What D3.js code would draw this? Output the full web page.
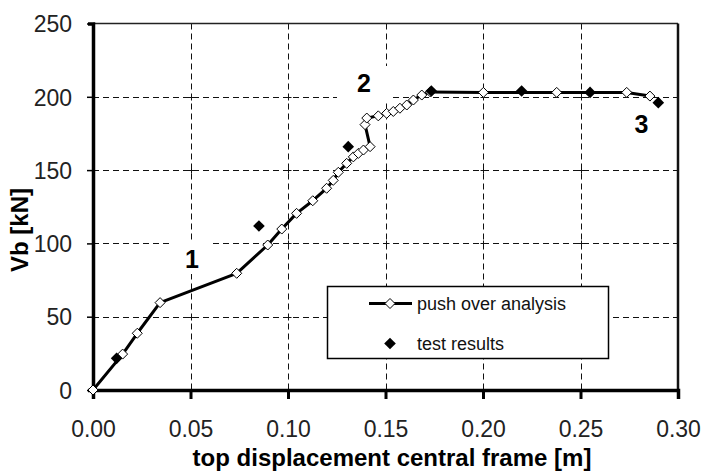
<!DOCTYPE html>
<html>
<head>
<meta charset="utf-8">
<script src="https://cdn.jsdelivr.net/npm/d3@7"></script>
<style>
  html, body { margin: 0; padding: 0; background: #fff; }
  svg { display: block; font-family: "Liberation Sans", Arial, sans-serif; }
</style>
</head>
<body>
<svg id="chart" width="704" height="475"></svg>
<script>
// Pushover curve of the central frame: top displacement [m] vs base shear Vb [kN]
const pushDisp = [0, 0.0152, 0.0227, 0.0344, 0.0737, 0.0896, 0.0968, 0.1044, 0.1127, 0.1198,
                  0.1232, 0.1258, 0.1301, 0.1335, 0.1361, 0.1387, 0.1421, 0.1395, 0.1404, 0.1463,
                  0.1506, 0.1540, 0.1574, 0.1609, 0.1643, 0.1686, 0.1730, 0.2002, 0.2378, 0.2737, 0.2856];
const pushVb   = [0, 24.5, 38.7, 59.6, 79.6, 98.9, 109.8, 120.5, 129.1, 137.6,
                  143.0, 148.5, 154.6, 159.0, 161.4, 163.7, 166.0, 181.0, 185.5, 187.0,
                  188.7, 190.0, 192.2, 194.4, 197.8, 201.2, 203.3, 203.0, 203.0, 203.0, 200.5];

// Experimental points
const testDisp = [0.0121, 0.0851, 0.1309, 0.1735, 0.2198, 0.2549, 0.2899];
const testVb   = [21.6, 111.9, 166.0, 204.0, 204.0, 203.0, 196.0];

// Axis ticks
const xTicks = [0, 0.05, 0.10, 0.15, 0.20, 0.25, 0.30];
const yTicks = [0, 50, 100, 150, 200, 250];

// Stage annotations
const stageLabels = ["1", "2", "3"];
const stageDisp   = [0.0507, 0.1389, 0.2812];
const stageVb     = [83, 203, 175];

const legendNames = ["push over analysis", "test results"];

const svg = d3.select("#chart");
const x = d3.scaleLinear().domain([0, 0.30]).range([93, 678]);
const y = d3.scaleLinear().domain([0, 250]).range([390, 23.5]);

const diamond = r => `M0,${-r}L${r},0L0,${r}L${-r},0Z`;

// dashed grid
const grid = svg.append("g").attr("stroke", "#111").attr("stroke-width", 1)
  .attr("stroke-dasharray", "6,4");
grid.selectAll("line.v").data(xTicks.slice(1, -1)).join("line")
  .attr("x1", d => Math.round(x(d)) + 0.5).attr("x2", d => Math.round(x(d)) + 0.5)
  .attr("y1", y(250)).attr("y2", y(0));
grid.selectAll("line.h").data(yTicks.slice(1, -1)).join("line")
  .attr("x1", x(0)).attr("x2", x(0.30))
  .attr("y1", d => Math.round(y(d)) + 0.5).attr("y2", d => Math.round(y(d)) + 0.5);

// small crosses where grid lines meet
const cross = svg.append("g").attr("stroke", "#111").attr("stroke-width", 1);
xTicks.slice(1, -1).forEach(a => yTicks.slice(1, -1).forEach(b => {
  const cx = Math.round(x(a)) + 0.5, cy = Math.round(y(b)) + 0.5;
  cross.append("line").attr("x1", cx - 3).attr("x2", cx + 3).attr("y1", cy).attr("y2", cy);
  cross.append("line").attr("x1", cx).attr("x2", cx).attr("y1", cy - 3).attr("y2", cy + 3);
}));

// white backgrounds of the stage text boxes
svg.append("rect").attr("x", 173).attr("y", 240).attr("width", 39).attr("height", 34).attr("fill", "#fff");
svg.append("rect").attr("x", 337).attr("y", 66).attr("width", 56).attr("height", 36).attr("fill", "#fff");

// plot frame (top and right)
svg.append("line").attr("x1", x(0)).attr("x2", x(0.30)).attr("y1", y(250)).attr("y2", y(250))
  .attr("stroke", "#222").attr("stroke-width", 1.5);
svg.append("line").attr("x1", x(0.30)).attr("x2", x(0.30)).attr("y1", y(250)).attr("y2", y(0))
  .attr("stroke", "#111").attr("stroke-width", 2.5);

// axes
const xAxis = svg.append("g").attr("transform", `translate(0,${y(0)})`)
  .call(d3.axisBottom(x).tickValues(xTicks).tickSize(9).tickFormat(d3.format(".2f")));
xAxis.select(".domain").attr("stroke", "#000").attr("stroke-width", 3.5);
xAxis.selectAll(".tick line").attr("stroke", "#000").attr("stroke-width", 3);
xAxis.selectAll(".tick text").attr("y", 46.5).attr("dy", null)
  .attr("font-size", 23).attr("fill", "#222");

const yAxis = svg.append("g").attr("transform", `translate(${x(0)},0)`)
  .call(d3.axisLeft(y).tickValues(yTicks).tickSize(5));
yAxis.select(".domain").attr("stroke", "#000").attr("stroke-width", 3.5);
yAxis.selectAll(".tick line").attr("stroke", "#000").attr("stroke-width", 1.5).attr("x2", -6);
yAxis.selectAll(".tick text").attr("x", -21).attr("dy", "0.36em")
  .attr("font-size", 23).attr("fill", "#222");
svg.selectAll(".domain").attr("fill", "none");
svg.selectAll(".tick").attr("font-family", null);
svg.selectAll("g").filter(function () { return this.hasAttribute("font-family"); })
  .attr("font-family", null);

// axis titles
svg.append("text").attr("x", 392).attr("y", 465.5).attr("text-anchor", "middle")
  .attr("font-size", 24).attr("font-weight", "bold").text("top displacement central frame [m]");
svg.append("text").attr("transform", "translate(27.5,230) rotate(-90)").attr("text-anchor", "middle")
  .attr("font-size", 24).attr("font-weight", "bold").text("Vb [kN]");

// pushover curve
const pushData = pushDisp.map((d, i) => [d, pushVb[i]]);
svg.append("path").datum(pushData)
  .attr("d", d3.line().x(d => x(d[0])).y(d => y(d[1])))
  .attr("fill", "none").attr("stroke", "#000").attr("stroke-width", 3)
  .attr("stroke-linejoin", "round");
svg.append("g").selectAll("path").data(pushData).join("path")
  .attr("transform", d => `translate(${x(d[0])},${y(d[1])})`)
  .attr("d", diamond(5)).attr("fill", "#fff").attr("stroke", "#000").attr("stroke-width", 1);

// test results
const testData = testDisp.map((d, i) => [d, testVb[i]]);
svg.append("g").selectAll("path").data(testData).join("path")
  .attr("transform", d => `translate(${x(d[0])},${y(d[1])})`)
  .attr("d", diamond(5.8)).attr("fill", "#000");

// stage labels
svg.append("g").selectAll("text").data(stageLabels).join("text")
  .attr("x", (d, i) => x(stageDisp[i])).attr("y", (d, i) => y(stageVb[i]))
  .attr("text-anchor", "middle").attr("font-size", 25).attr("font-weight", "bold")
  .text(d => d);

// legend
const lg = svg.append("g");
lg.append("rect").attr("x", 327.5).attr("y", 286.5).attr("width", 281).attr("height", 72)
  .attr("fill", "#fff").attr("stroke", "#000").attr("stroke-width", 1.5);
lg.append("line").attr("x1", 369).attr("x2", 412).attr("y1", 303.5).attr("y2", 303.5)
  .attr("stroke", "#000").attr("stroke-width", 3);
lg.append("path").attr("transform", "translate(390,303.5)").attr("d", diamond(5))
  .attr("fill", "#fff").attr("stroke", "#000").attr("stroke-width", 1);
lg.append("path").attr("transform", "translate(390,343.5)").attr("d", diamond(5.8)).attr("fill", "#000");
lg.selectAll("text").data(legendNames).join("text")
  .attr("x", 417).attr("y", (d, i) => i ? 350 : 309.5)
  .attr("font-size", 18).attr("fill", "#111").text(d => d);
</script>
</body>
</html>
